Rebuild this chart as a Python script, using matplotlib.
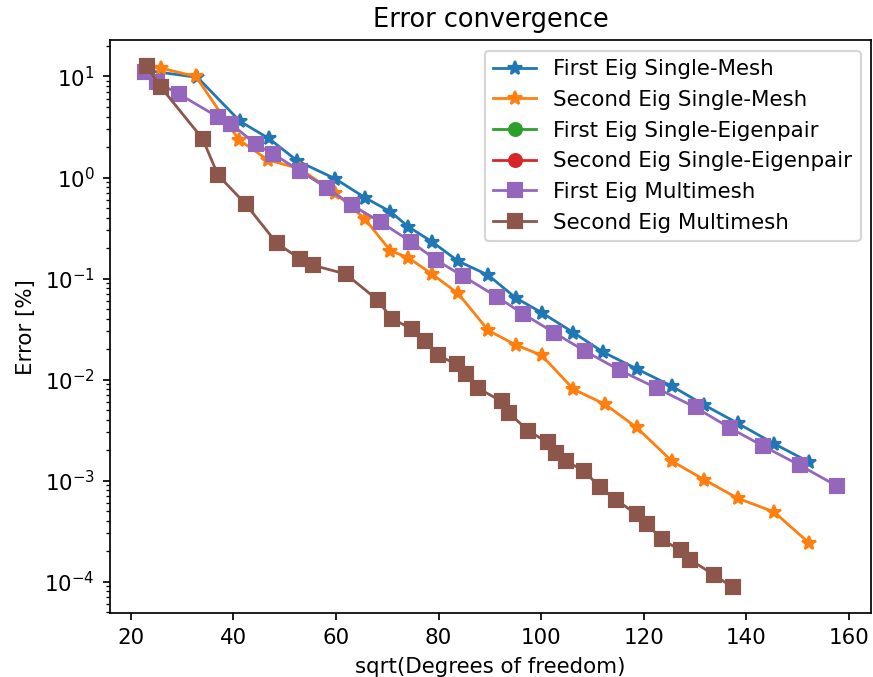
import matplotlib
matplotlib.use("Agg")
import matplotlib.pyplot as plt

# --- данные ---
x_first_single = [23.0, 33.0, 41.3, 46.9, 52.5, 59.9, 65.7, 70.6, 74.1, 78.7, 83.8,
                  89.7, 95.0, 100.1, 106.3, 112.1, 118.6, 125.5, 131.8, 138.3, 145.4, 152.2]
y_first_single = [11.5, 9.8, 3.6, 2.44, 1.46, 0.97, 0.63, 0.46, 0.326, 0.232, 0.149,
                  0.108, 0.0646, 0.046, 0.0292, 0.0187, 0.0128, 0.0086, 0.0056, 0.0037,
                  0.00232, 0.00153]

x_second_single = [23.0, 25.9, 32.7, 41.1, 46.8, 53.0, 59.9, 65.7, 70.6, 74.1, 78.7, 83.8,
                   89.7, 95.0, 100.1, 106.3, 112.5, 118.6, 125.5, 131.8, 138.3, 145.4, 152.2]
y_second_single = [12.5, 12.1, 10.0, 2.35, 1.49, 1.22, 0.70, 0.386, 0.189, 0.161, 0.111,
                   0.0713, 0.0307, 0.0221, 0.0174, 0.00803, 0.00568, 0.00336, 0.00156,
                   0.00102, 0.00067, 0.00049, 0.000242]

x_first_pair = []
y_first_pair = []
x_second_pair = []
y_second_pair = []

x_first_multi = [22.7, 25.1, 29.4, 37.0, 39.5, 44.4, 47.8, 52.9, 58.2, 63.2, 68.8, 74.7,
                 79.5, 84.7, 91.4, 96.4, 102.6, 108.5, 115.3, 122.6, 130.1, 136.9, 143.2,
                 150.4, 157.6]
y_first_multi = [11.0, 8.8, 6.7, 3.97, 3.42, 2.13, 1.71, 1.17, 0.79, 0.53, 0.36, 0.23,
                 0.153, 0.106, 0.066, 0.045, 0.029, 0.0192, 0.0124, 0.0082, 0.0053,
                 0.0033, 0.00221, 0.00142, 0.00089]

x_second_multi = [23.1, 25.9, 34.0, 37.0, 42.4, 48.5, 52.9, 55.6, 61.9, 68.1, 70.9, 74.9,
                  77.3, 79.8, 83.6, 85.3, 87.7, 92.3, 93.8, 97.4, 101.3, 102.8, 104.9,
                  108.3, 111.5, 114.5, 118.6, 120.7, 123.5, 127.2, 129.1, 133.7, 137.3]
y_second_multi = [12.7, 7.8, 2.42, 1.06, 0.546, 0.223, 0.158, 0.135, 0.111, 0.0615, 0.040,
                  0.0316, 0.0239, 0.0174, 0.0142, 0.0113, 0.0082, 0.0061, 0.00466, 0.00313,
                  0.00239, 0.00187, 0.00156, 0.00125, 0.00086, 0.00065, 0.000466, 0.00037,
                  0.000262, 0.000204, 0.000164, 0.000117, 0.000088]

# --- график ---
DPI = 154
fig = plt.figure(figsize=(873 / DPI, 677 / DPI), dpi=DPI)
ax = fig.add_axes([0.126, 0.094, 0.872, 0.847])

lw = 1.3
ax.semilogy(x_first_single, y_first_single, marker='*', markersize=7, lw=lw, label='First Eig Single-Mesh')
ax.semilogy(x_second_single, y_second_single, marker='*', markersize=7, lw=lw, label='Second Eig Single-Mesh')
ax.semilogy(x_first_pair, y_first_pair, marker='o', markersize=6, lw=lw, label='First Eig Single-Eigenpair')
ax.semilogy(x_second_pair, y_second_pair, marker='o', markersize=6, lw=lw, label='Second Eig Single-Eigenpair')
ax.semilogy(x_first_multi, y_first_multi, marker='s', markersize=7, lw=lw, label='First Eig Multimesh')
ax.semilogy(x_second_multi, y_second_multi, marker='s', markersize=7, lw=lw, label='Second Eig Multimesh')

ax.set_xlabel('sqrt(Degrees of freedom)')
ax.set_ylabel('Error [%]')
ax.set_title('Error convergence')
ax.legend(loc='upper right')

fig.savefig('out.png', dpi=DPI)
